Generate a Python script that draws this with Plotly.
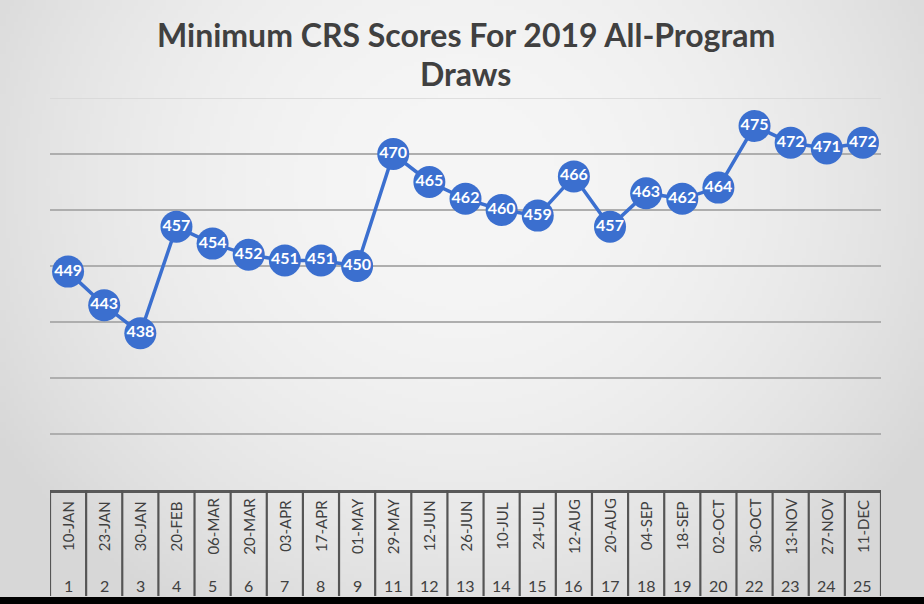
import base64, struct, zlib
import numpy as np
import plotly.graph_objects as go

# ---- data ----
draw_numbers = ["1", "2", "3", "4", "5", "6", "7", "8", "9", "11", "12", "13",
                "14", "15", "16", "17", "18", "19", "20", "22", "23", "24", "25"]
draw_dates = ["10-JAN", "23-JAN", "30-JAN", "20-FEB", "06-MAR", "20-MAR", "03-APR",
              "17-APR", "01-MAY", "29-MAY", "12-JUN", "26-JUN", "10-JUL", "24-JUL",
              "12-AUG", "20-AUG", "04-SEP", "18-SEP", "02-OCT", "30-OCT", "13-NOV",
              "27-NOV", "11-DEC"]
min_crs = [449, 443, 438, 457, 454, 452, 451, 451, 450, 470, 465, 462, 460, 459,
           466, 457, 463, 462, 464, 475, 472, 471, 472]
title_lines = ["Minimum CRS Scores For 2019 All-Program", "Draws"]

W, H = 924, 604
ML, MR, MT, MB = 50, 43, 98, 114
PW, PH = W - ML - MR, H - MT - MB

# ---- background gradient (grayscale PNG) ----
def make_png(arr):
    h, w = arr.shape
    raw = b"".join(b"\x00" + arr[r].tobytes() for r in range(h))
    def chunk(tag, data):
        c = struct.pack(">I", len(data)) + tag + data
        return c + struct.pack(">I", zlib.crc32(tag + data) & 0xffffffff)
    return (b"\x89PNG\r\n\x1a\n" + chunk(b"IHDR", struct.pack(">IIBBBBB", w, h, 8, 0, 0, 0, 0))
            + chunk(b"IDAT", zlib.compress(raw, 9)) + chunk(b"IEND", b""))

gw, gh = 231, 151
yy, xx = np.mgrid[0:gh, 0:gw]
dx = (xx / (gw - 1) - 0.5) * 2
dy = (yy / (gh - 1) - 0.3) * 1.4
r2 = dx ** 2 + dy ** 2
bg = np.clip(246 - 22 * r2, 215, 250).astype(np.uint8)
bg_uri = "data:image/png;base64," + base64.b64encode(make_png(bg)).decode()

fig = go.Figure()
fig.add_trace(go.Scatter(
    x=draw_dates, y=min_crs, mode="lines+markers+text",
    line=dict(color="#3b6fcf", width=3.5),
    marker=dict(size=32, color="#3b6fcf", line=dict(width=0)),
    text=[str(v) for v in min_crs], textposition="middle center",
    textfont=dict(family="Lato", size=16, color="white", weight=700),
    cliponaxis=False, hoverinfo="skip",
))

shapes = [dict(type="line", xref="paper", yref="y", x0=0, x1=1, y0=480, y1=480,
               layer="below", line=dict(color="#d6d6d6", width=1.5))]
n = len(draw_dates)
y_bottom = -(596 - 490) / PH
for i in range(n + 1):
    shapes.append(dict(type="line", xref="x", yref="paper", x0=i - 0.5, x1=i - 0.5,
                       y0=0, y1=y_bottom, line=dict(color="#555555", width=2.2)))
shapes.append(dict(type="rect", xref="paper", yref="paper", x0=-ML / PW - 0.01,
                   x1=1 + MR / PW + 0.01, y0=-(597 - 490) / PH, y1=-(MB + 5) / PH,
                   fillcolor="black", line=dict(width=0)))

annotations = []
for k, (line_txt, ypix) in enumerate(zip(title_lines, [35, 74])):
    annotations.append(dict(x=0.5, xref="paper", y=1 + (MT - ypix) / PH, yref="paper",
                            text=line_txt, showarrow=False, xanchor="center",
                            yanchor="middle",
                            font=dict(family="Lato", size=32, color="#404040", weight=700)))
for d, num in zip(draw_dates, draw_numbers):
    annotations.append(dict(x=d, xref="x", y=-(526 - 490) / PH, yref="paper", text=d,
                            textangle=-90, showarrow=False, xanchor="center", yanchor="middle",
                            font=dict(family="Lato", size=15, color="#404040")))
    annotations.append(dict(x=d, xref="x", y=-(585 - 490) / PH, yref="paper", text=num,
                            showarrow=False, xanchor="center", yanchor="middle",
                            font=dict(family="Lato", size=16, color="#404040")))

fig.update_layout(
    width=W, height=H,
    margin=dict(l=ML, r=MR, t=MT, b=MB),
    paper_bgcolor="#e8e8e8", plot_bgcolor="rgba(0,0,0,0)",
    showlegend=False,
    xaxis=dict(type="category", categoryorder="array", categoryarray=draw_dates,
               range=[-0.5, n - 0.5], showticklabels=False, ticks="", showgrid=False,
               showline=True, linecolor="#595959", linewidth=2.5, zeroline=False,
               fixedrange=True),
    yaxis=dict(range=[410, 480], dtick=10, tick0=410, showticklabels=False, ticks="",
               showgrid=True, gridcolor="#aeaeae", gridwidth=1.5, zeroline=False,
               showline=False, fixedrange=True),
    shapes=shapes, annotations=annotations,
    images=[dict(source=bg_uri, xref="paper", yref="paper", x=-ML / PW, y=1 + MT / PH,
                 sizex=W / PW, sizey=H / PH, sizing="stretch", layer="below",
                 xanchor="left", yanchor="top")],
)

fig.write_html("out.html")
